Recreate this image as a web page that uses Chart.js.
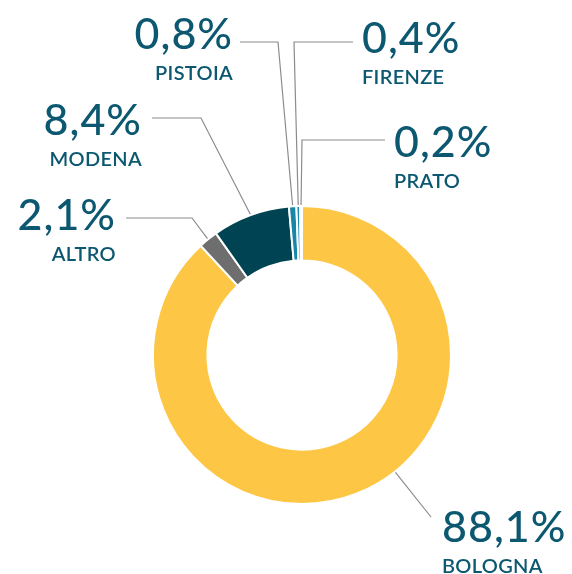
<!DOCTYPE html>
<html>
<head>
<meta charset="utf-8">
<script src="https://cdn.jsdelivr.net/npm/chart.js@4.4.1/dist/chart.umd.min.js"></script>
<style>
  html, body { margin: 0; padding: 0; background: #fff; }
  #wrap { position: relative; width: 572px; height: 574px; }
</style>
</head>
<body>
<div id="wrap"><canvas id="chart" width="572" height="574"></canvas></div>
<script>
const cities = ['Bologna', 'Altro', 'Modena', 'Pistoia', 'Firenze', 'Prato'];
const shares = [88.1, 2.1, 8.4, 0.8, 0.4, 0.2];
const sliceColors = ['#fdc745', '#6e6e6e', '#004352', '#1787a8', '#1b8db1', '#e9f4f7'];

// callout layout: where the leader line bends and where the text sits
const callouts = [
  { at: 0.446, elbow: null, end: [431, 517], tx: 442, ty: 542, align: 'left' },
  { at: 0.5, elbow: [192, 218], end: [126, 218], tx: 116, ty: 230, align: 'right' },
  { at: 0.5, elbow: [201, 118], end: [152, 118], tx: 142, ty: 135, align: 'right' },
  { at: 0.5, elbow: [278, 42], end: [240, 42], tx: 233, ty: 49, align: 'right' },
  { at: 0.5, elbow: [294, 42], end: [353, 42], tx: 362, ty: 53, align: 'left' },
  { at: 0.5, elbow: [302, 140], end: [385, 140], tx: 394, ty: 157, align: 'left' },
];

const textColor = '#0d5871';
const fontFamily = 'Lato, "Noto Sans", sans-serif';

const calloutPlugin = {
  id: 'callouts',
  afterDraw(chart) {
    const ctx = chart.ctx;
    const arcs = chart.getDatasetMeta(0).data;
    ctx.save();
    arcs.forEach((arc, i) => {
      const c = callouts[i];
      const p = arc.getProps(['x', 'y', 'startAngle', 'endAngle', 'outerRadius'], true);
      const a = p.startAngle + (p.endAngle - p.startAngle) * c.at;
      const r = p.outerRadius + 1;
      const sx = p.x + Math.cos(a) * r;
      const sy = p.y + Math.sin(a) * r;

      ctx.strokeStyle = '#8c8c8c';
      ctx.lineWidth = 1.2;
      ctx.beginPath();
      ctx.moveTo(sx, sy);
      if (c.elbow) ctx.lineTo(c.elbow[0], c.elbow[1]);
      ctx.lineTo(c.end[0], c.end[1]);
      ctx.stroke();

      ctx.fillStyle = textColor;
      ctx.textAlign = c.align;
      ctx.textBaseline = 'alphabetic';
      ctx.letterSpacing = '1px';
      ctx.font = '500 43px ' + fontFamily;
      ctx.fillText(shares[i].toFixed(1).replace('.', ',') + '%', c.tx, c.ty);
      ctx.letterSpacing = '0.3px';
      ctx.font = '600 20px ' + fontFamily;
      ctx.fillText(cities[i].toUpperCase(), c.tx, c.ty + 31);
    });
    ctx.restore();
  }
};

new Chart(document.getElementById('chart'), {
  type: 'doughnut',
  data: {
    labels: cities,
    datasets: [{
      data: shares,
      backgroundColor: sliceColors,
      borderColor: '#ffffff',
      borderWidth: 2,
    }],
  },
  options: {
    responsive: false,
    animation: false,
    cutout: '63.5%',
    layout: { padding: { left: 152, right: 120, top: 205, bottom: 69 } },
    plugins: {
      legend: { display: false },
      tooltip: { enabled: false },
    },
  },
  plugins: [calloutPlugin],
});
</script>
</body>
</html>
